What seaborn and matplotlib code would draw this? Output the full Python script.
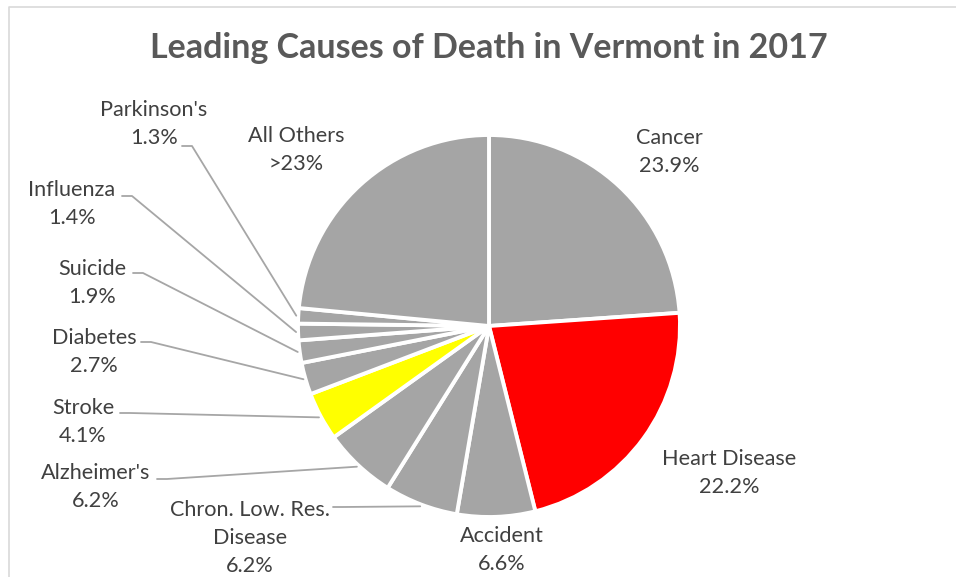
import matplotlib
matplotlib.use('Agg')
import numpy as np
import seaborn as sns
import matplotlib.pyplot as plt
from matplotlib.lines import Line2D

# data (percent of deaths)
causes = ["Cancer", "Heart Disease", "Accident", "Chron. Low. Res.\nDisease",
          "Alzheimer's", "Stroke", "Diabetes", "Suicide", "Influenza",
          "Parkinson's", "All Others"]
shares = [23.9, 22.2, 6.6, 6.2, 6.2, 4.1, 2.7, 1.9, 1.4, 1.3, 23.5]
share_labels = ["23.9%", "22.2%", "6.6%", "6.2%", "6.2%", "4.1%", "2.7%",
                "1.9%", "1.4%", "1.3%", ">23%"]
highlight = {"Heart Disease": "#FF0000", "Stroke": "#FFFF00"}

# layout, in pixels from the top-left corner
W, H = 956, 577
center = (489, 326)
radius = 191
label_pos = [(669, 152), (729, 473), (502, 550), (250, 538), (96, 487),
             (83, 422), (94, 352), (92, 283), (72, 204), (154, 124), (296, 150)]
leader_start = [None, None, None, (333, 507), (157, 479), (120, 413),
                (141, 342), (133, 273), (122, 196), (182, 146), None]

sns.set_theme(style="white")
plt.rcParams['font.family'] = ['Lato', 'DejaVu Sans']

fig = plt.figure(figsize=(W / 100, H / 100), dpi=100)
ax = fig.add_axes([0, 0, 1, 1])

colors = [highlight.get(c, "#A5A5A5") for c in causes]
ax.pie(shares, colors=colors, startangle=90, counterclock=False,
       center=(center[0], H - center[1]), radius=radius,
       wedgeprops=dict(edgecolor="white", linewidth=2.8))
ax.set_xlim(0, W)
ax.set_ylim(0, H)
ax.set_aspect('equal')
ax.axis('off')

# labels and leader lines
total = sum(shares)
cum = np.cumsum([0] + shares)
for i, name in enumerate(causes):
    lx, ly = label_pos[i]
    ax.text(lx, H - ly, f"{name}\n{share_labels[i]}", ha="center", va="center",
            fontsize=15.6, color="#404040", linespacing=1.5)
    if leader_start[i] is not None:
        mid = np.deg2rad((cum[i] + shares[i] / 2) / total * 360)
        ex = center[0] + (radius + 2) * np.sin(mid)
        ey = center[1] - (radius + 2) * np.cos(mid)
        sx, sy = leader_start[i]
        ax.add_line(Line2D([sx, sx + 10, ex], [H - sy, H - sy, H - ey],
                           color="#A6A6A6", linewidth=1.3))

ax.text(489, H - 48, "Leading Causes of Death in Vermont in 2017", ha="center",
        va="center", fontsize=24.5, fontweight="bold", color="#595959")

# chart area border
ax.add_line(Line2D([9.5, 9.5, W], [0, H - 6.5, H - 6.5], color="#D9D9D9",
                   linewidth=1.2))

fig.savefig("out.png", dpi=100)
